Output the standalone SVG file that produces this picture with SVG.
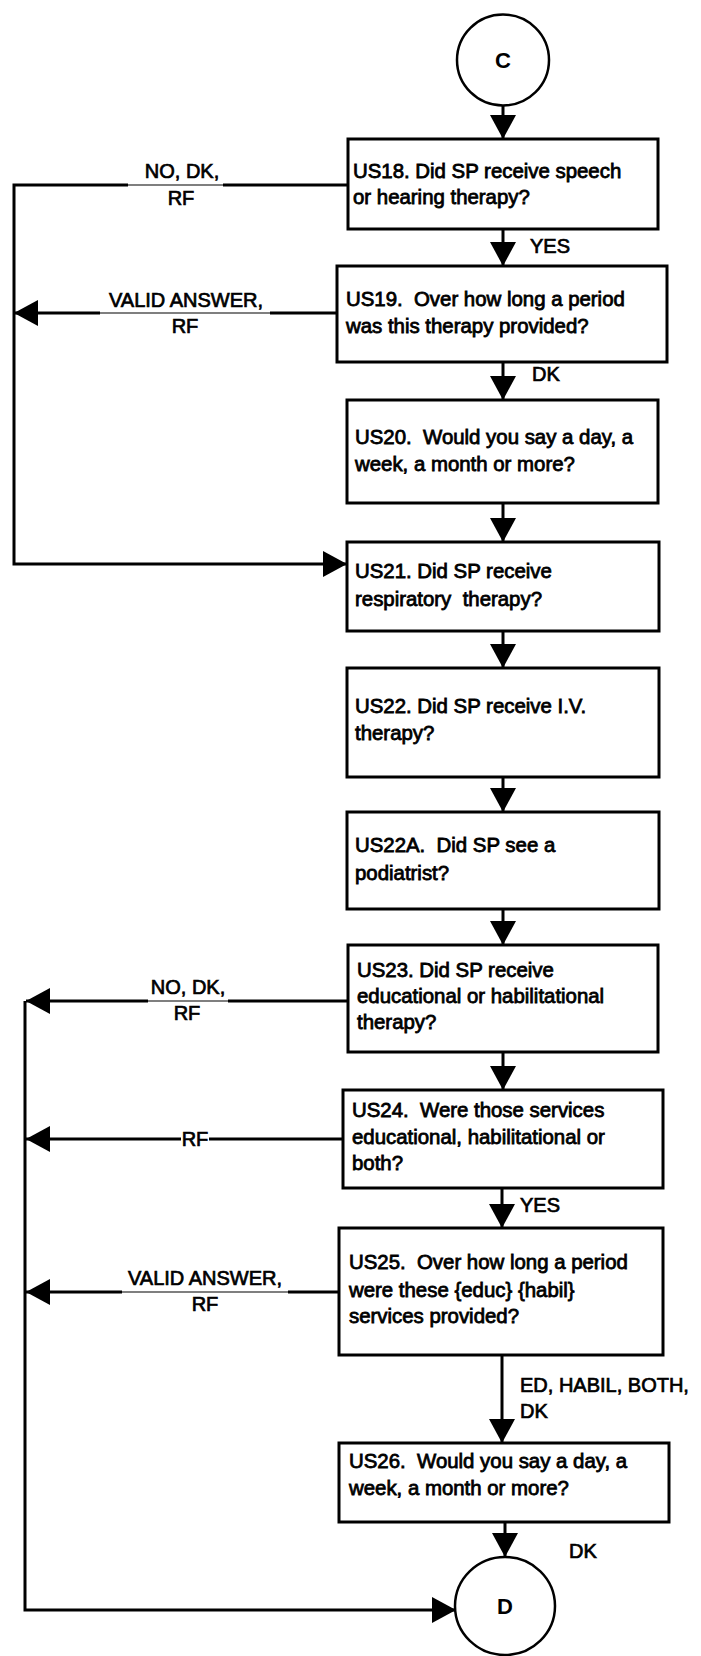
<svg xmlns="http://www.w3.org/2000/svg" width="701" height="1656" viewBox="0 0 701 1656">
<style>
.box{fill:#fff;stroke:#000;stroke-width:3}
.circ{fill:#fff;stroke:#000;stroke-width:2.5}
.t{font-family:"Liberation Sans",Arial,sans-serif;font-size:20.4px;fill:#000;stroke:#000;stroke-width:0.8;white-space:pre}
.lbl{font-family:"Liberation Sans",Arial,sans-serif;font-size:20px;fill:#000;stroke:#000;stroke-width:0.7;white-space:pre}
.c{font-family:"Liberation Sans",Arial,sans-serif;font-size:22px;font-weight:bold;fill:#000;text-anchor:middle}
.ln{fill:none;stroke:#000;stroke-width:3}
.thin{fill:none;stroke:#000;stroke-width:1.2}
.mid{text-anchor:middle}
</style>
<defs>
<marker id="ah" viewBox="0 0 24 26" refX="24" refY="13" markerWidth="24" markerHeight="26" markerUnits="userSpaceOnUse" orient="auto">
<path d="M0,0 L24,13 L0,26 Z" fill="#000"/>
</marker>
</defs>
<g id="connectors">
<line class="ln" x1="503" y1="106" x2="503" y2="139" marker-end="url(#ah)"/>
<line class="ln" x1="503" y1="229" x2="503" y2="266" marker-end="url(#ah)"/>
<line class="ln" x1="503" y1="362" x2="503" y2="400" marker-end="url(#ah)"/>
<line class="ln" x1="503" y1="503" x2="503" y2="542" marker-end="url(#ah)"/>
<line class="ln" x1="503" y1="631" x2="503" y2="668" marker-end="url(#ah)"/>
<line class="ln" x1="503" y1="777" x2="503" y2="812" marker-end="url(#ah)"/>
<line class="ln" x1="503" y1="909" x2="503" y2="945" marker-end="url(#ah)"/>
<line class="ln" x1="503" y1="1052" x2="503" y2="1090" marker-end="url(#ah)"/>
<line class="ln" x1="502" y1="1188" x2="502" y2="1228" marker-end="url(#ah)"/>
<line class="ln" x1="502" y1="1355" x2="502" y2="1443" marker-end="url(#ah)"/>
<line class="ln" x1="505" y1="1522" x2="505" y2="1557" marker-end="url(#ah)"/>
<polyline class="ln" points="348,185 223,185"/>
<line class="thin" x1="223" y1="185" x2="128" y2="185"/>
<polyline class="ln" points="128,185 14,185 14,564 347,564" marker-end="url(#ah)"/>
<line class="ln" x1="337" y1="313" x2="270" y2="313"/>
<line class="thin" x1="270" y1="313" x2="100" y2="313"/>
<line class="ln" x1="100" y1="313" x2="14" y2="313" marker-end="url(#ah)"/>
<line class="ln" x1="348" y1="1001" x2="228" y2="1001"/>
<line class="thin" x1="228" y1="1001" x2="148" y2="1001"/>
<line class="ln" x1="148" y1="1001" x2="26" y2="1001" marker-end="url(#ah)"/>
<line class="ln" x1="343" y1="1139" x2="209" y2="1139"/>
<line class="ln" x1="181" y1="1139" x2="26" y2="1139" marker-end="url(#ah)"/>
<line class="ln" x1="339" y1="1292" x2="288" y2="1292"/>
<line class="thin" x1="288" y1="1292" x2="122" y2="1292"/>
<line class="ln" x1="122" y1="1292" x2="26" y2="1292" marker-end="url(#ah)"/>
<polyline class="ln" points="25,1001 25,1610 456,1610" marker-end="url(#ah)"/>
<text class="lbl" x="530" y="253">YES</text>
<text class="lbl" x="532" y="381">DK</text>
<text class="lbl mid" x="182" y="178">NO, DK,</text>
<text class="lbl mid" x="181" y="205">RF</text>
<text class="lbl mid" x="186" y="307">VALID ANSWER,</text>
<text class="lbl mid" x="185" y="333">RF</text>
<text class="lbl mid" x="188" y="994">NO, DK,</text>
<text class="lbl mid" x="187" y="1020">RF</text>
<text class="lbl mid" x="195" y="1146">RF</text>
<text class="lbl mid" x="205" y="1285">VALID ANSWER,</text>
<text class="lbl mid" x="205" y="1311">RF</text>
<text class="lbl" x="520" y="1212">YES</text>
<text class="lbl" x="520" y="1392">ED, HABIL, BOTH,</text>
<text class="lbl" x="520" y="1418">DK</text>
<text class="lbl" x="569" y="1558">DK</text>
</g>
<g id="C">
<ellipse class="circ" cx="503" cy="60" rx="46" ry="45.5"/>
<text class="c" x="503" y="68">C</text>
</g>
<g id="US18">
<rect class="box" x="348" y="139" width="310" height="90"/>
<text class="t" x="353" y="178">US18. Did SP receive speech</text>
<text class="t" x="353" y="204">or hearing therapy?</text>
</g>
<g id="US19">
<rect class="box" x="337" y="266" width="330" height="96"/>
<text class="t" x="346" y="306">US19.  Over how long a period</text>
<text class="t" x="346" y="333">was this therapy provided?</text>
</g>
<g id="US20">
<rect class="box" x="347" y="400" width="311" height="103"/>
<text class="t" x="355" y="444">US20.  Would you say a day, a</text>
<text class="t" x="355" y="471">week, a month or more?</text>
</g>
<g id="US21">
<rect class="box" x="347" y="542" width="312" height="89"/>
<text class="t" x="355" y="578">US21. Did SP receive</text>
<text class="t" x="355" y="606">respiratory  therapy?</text>
</g>
<g id="US22">
<rect class="box" x="347" y="668" width="312" height="109"/>
<text class="t" x="355" y="713">US22. Did SP receive I.V.</text>
<text class="t" x="355" y="740">therapy?</text>
</g>
<g id="US22A">
<rect class="box" x="347" y="812" width="312" height="97"/>
<text class="t" x="355" y="852">US22A.  Did SP see a</text>
<text class="t" x="355" y="880">podiatrist?</text>
</g>
<g id="US23">
<rect class="box" x="348" y="945" width="310" height="107"/>
<text class="t" x="357" y="977">US23. Did SP receive</text>
<text class="t" x="357" y="1003">educational or habilitational</text>
<text class="t" x="357" y="1029">therapy?</text>
</g>
<g id="US24">
<rect class="box" x="343" y="1090" width="320" height="98"/>
<text class="t" x="352" y="1117">US24.  Were those services</text>
<text class="t" x="352" y="1144">educational, habilitational or</text>
<text class="t" x="352" y="1170">both?</text>
</g>
<g id="US25">
<rect class="box" x="339" y="1228" width="324" height="127"/>
<text class="t" x="349" y="1269">US25.  Over how long a period</text>
<text class="t" x="349" y="1297">were these {educ} {habil}</text>
<text class="t" x="349" y="1323">services provided?</text>
</g>
<g id="US26">
<rect class="box" x="339" y="1443" width="330" height="79"/>
<text class="t" x="349" y="1468">US26.  Would you say a day, a</text>
<text class="t" x="349" y="1495">week, a month or more?</text>
</g>
<g id="D">
<ellipse class="circ" cx="505" cy="1606" rx="50" ry="49"/>
<text class="c" x="505" y="1614">D</text>
</g>
</svg>
